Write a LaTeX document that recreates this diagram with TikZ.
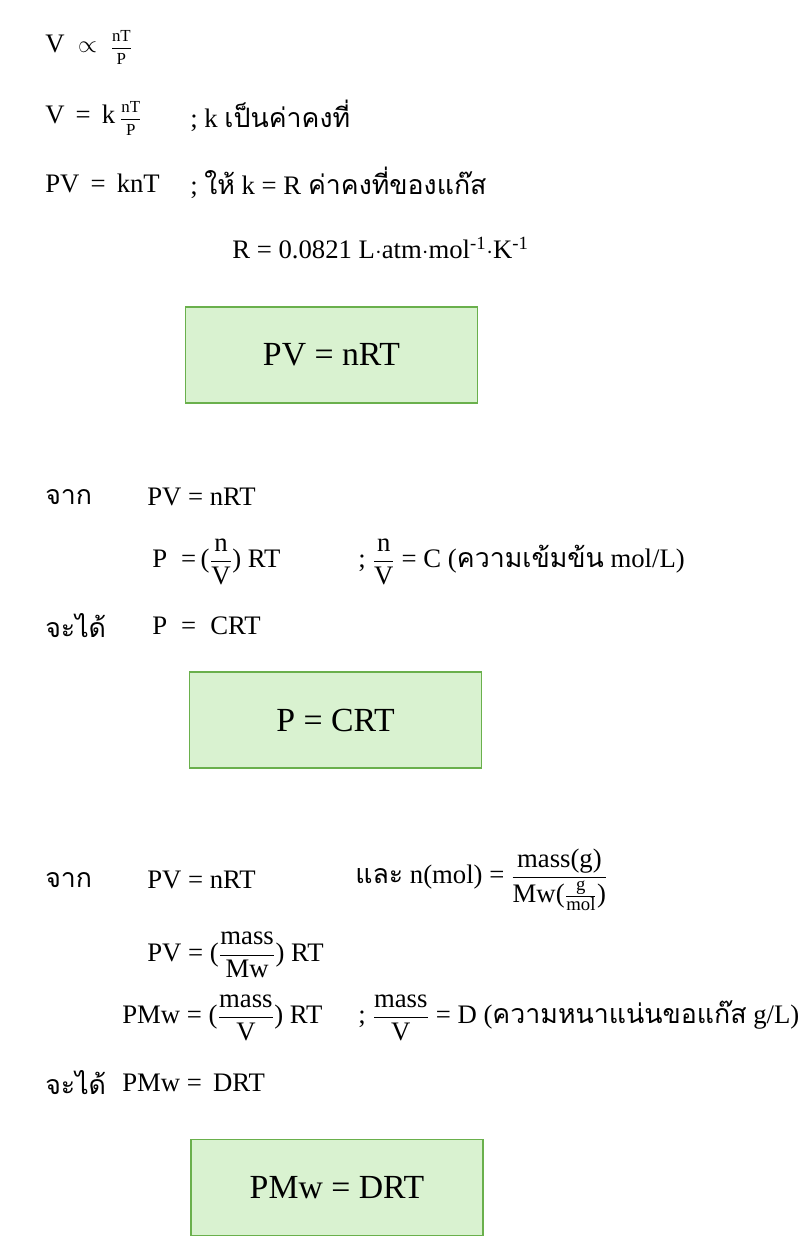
\documentclass[tikz,border=0pt]{standalone}
\usepackage{amsmath}
\usepackage{fontspec}
\setmainfont{Liberation Serif}
\newfontfamily\thaifont[Script=Thai]{Loma}
\newcommand{\thai}[1]{{\thaifont #1}}
\usetikzlibrary{positioning}
\definecolor{boxfill}{HTML}{D9F2D0}
\definecolor{boxline}{HTML}{6AB04C}
\tikzset{
  eq/.style={anchor=west, inner sep=0pt, font=\fontsize{19}{22}\selectfont},
  result/.style={draw=boxline, line width=1.2pt, fill=boxfill, minimum width=7.3cm,
    minimum height=2.4cm, font=\fontsize{24}{28}\selectfont}
}
\begin{document}
\begin{tikzpicture}[x=0.025cm, y=-0.025cm]
    \useasboundingbox (0,0) rectangle (800,1252);

    % the gas law
    \node[eq] (prop) at (45,47) {V $\;\propto\;$ \large$\dfrac{\text{nT}}{\text{P}}$};
    \node[eq] (vk) at (45,118) {V \,=\, k\,\large$\dfrac{\text{nT}}{\text{P}}$};
    \node[eq] (vknote) at (190,116) {; k \thai{เป็นค่าคงที่}};
    \node[eq] (pv) at (45,183) {PV \,=\, knT};
    \node[eq] (pvnote) at (190,183) {; \thai{ให้} k = R \thai{ค่าคงที่ของแก๊ส}};
    \node[eq] (rval) at (232,248) {R = 0.0821 L$\cdot$atm$\cdot$mol$^{\text{-1}}\cdot$K$^{\text{-1}}$};
    \node[result] (box1) at (331.5,355) {PV = nRT};

    % concentration
    \node[eq] (from1) at (45,497) {\thai{จาก}};
    \node[eq] (pv1) at (147,497) {PV = nRT};
    \node[eq] (pc) at (152,562) {P \;=\,($\dfrac{\text{n}}{\text{V}}$) RT};
    \node[eq] (pcnote) at (358,562) {; $\dfrac{\text{n}}{\text{V}}$ = C (\thai{ความเข้มข้น} mol/L)};
    \node[eq] (get1) at (45,626) {\thai{จะได้}};
    \node[eq] (crt) at (152,626) {P \;=\; CRT};
    \node[result] (box2) at (335.5,720) {P = CRT};

    % density
    \node[eq] (from2) at (45,880) {\thai{จาก}};
    \node[eq] (pv2) at (147,880) {PV = nRT};
    \node[eq] (mol) at (355,880) {\thai{และ} n(mol) = $\dfrac{\text{mass(g)}}{\text{Mw(}\frac{\text{g}}{\text{mol}}\text{)}}$};
    \node[eq] (pvm) at (147,955) {PV = ($\dfrac{\text{mass}}{\text{Mw}}$) RT};
    \node[eq] (pmw) at (122,1018) {PMw = ($\dfrac{\text{mass}}{\text{V}}$) RT};
    \node[eq] (pmwnote) at (358,1018) {; $\dfrac{\text{mass}}{\text{V}}$ = D (\thai{ความหนาแน่นขอแก๊ส} g/L)};
    \node[eq] (get2) at (45,1083) {\thai{จะได้}};
    \node[eq] (drt) at (122,1083) {PMw = \,DRT};
    \node[result] (box3) at (337,1187.5) {PMw = DRT};
\end{tikzpicture}
\end{document}
